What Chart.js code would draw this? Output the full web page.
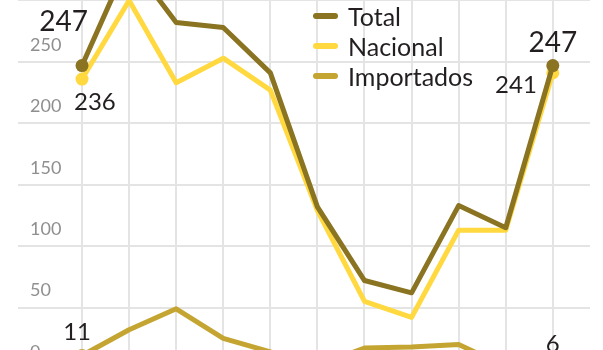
<!DOCTYPE html>
<html>
<head>
<meta charset="utf-8">
<script src="https://cdn.jsdelivr.net/npm/chart.js@4"></script>
<style>
  html, body { margin: 0; padding: 0; background: #fff; overflow: hidden; }
  body { width: 603px; height: 350px; position: relative; font-family: Lato, sans-serif; }
  #wrap { position: absolute; left: 0; top: -61px; width: 603px; height: 430px; }
  #legend { position: absolute; left: 313px; top: 1px; }
  .item { height: 30px; display: flex; align-items: center; font-size: 25px; color: #231f20; }
  .swatch { width: 25px; height: 6px; border-radius: 3px; margin-right: 10px; }
</style>
</head>
<body>
<div id="wrap"><canvas id="chart" width="603" height="430"></canvas></div>
<div id="legend"></div>
<script>
// --- data ---
const categories = ["2013", "2014", "2015", "2016", "2017", "2018", "2019", "2020", "2021", "2022", "2023"];
const total = [247, 333, 282, 278, 241, 132, 72, 62, 133, 115, 247];
const nacional = [236, 300, 233, 253, 227, 129, 55, 42, 113, 113, 241];
const importados = [11, 32, 49, 25, 14, 3, 17, 18, 20, 2, 6];
const yTicks = [0, 50, 100, 150, 200, 250, 300, 350];

const colors = {
  total: "#8a7422",
  nacional: "#ffd93f",
  importados: "#c4a532",
};

const last = categories.length - 1;
const toPoints = (arr) => arr.map((v, i) => ({ x: i, y: v }));
const endDot = (ctx) => (ctx.dataIndex === 0 || ctx.dataIndex === last ? 6.5 : 0);

// number labels at the ends of the lines
// [dataset, index, dx, dy, align, size]
const endLabels = [
  [0, 0, 6, -35, "right", 28],
  [1, 0, -8, 31, "left", 24],
  [0, last, 0, -14, "center", 28],
  [1, last, -16, 20, "right", 24],
  [2, 0, 9, -15, "right", 24],
  [2, last, 0, -10, "center", 24],
];

const labelPlugin = {
  id: "endLabels",
  afterDatasetsDraw(chart) {
    const ctx = chart.ctx;
    ctx.save();
    ctx.fillStyle = "#231f20";
    ctx.textBaseline = "alphabetic";
    endLabels.forEach(([ds, idx, dx, dy, align, size]) => {
      const pt = chart.getDatasetMeta(ds).data[idx];
      ctx.font = size + "px Lato";
      ctx.textAlign = align;
      ctx.fillText(chart.data.datasets[ds].data[idx].y, pt.x + dx, pt.y + dy);
    });
    ctx.restore();
  },
};

const datasets = [
  { label: "Total", data: toPoints(total), borderColor: colors.total, backgroundColor: colors.total },
  { label: "Nacional", data: toPoints(nacional), borderColor: colors.nacional, backgroundColor: colors.nacional },
  { label: "Importados", data: toPoints(importados), borderColor: colors.importados, backgroundColor: colors.importados },
].map((d) => ({
  ...d,
  borderWidth: 5,
  pointRadius: endDot,
  pointBorderWidth: 0,
  pointHoverRadius: endDot,
  tension: 0,
  borderJoinStyle: "round",
}));

// mirrored axes should not eat any room from the plot
const noRoom = (scale) => {
  if (scale.isHorizontal()) {
    scale.height = 0;
  } else {
    scale.width = 0;
  }
  scale.paddingTop = 0;
  scale.paddingBottom = 0;
  scale.paddingLeft = 0;
  scale.paddingRight = 0;
};

new Chart(document.getElementById("chart"), {
  type: "line",
  data: { datasets },
  options: {
    responsive: false,
    animation: false,
    layout: { autoPadding: false, padding: { left: 18, right: 13, top: 0, bottom: 0 } },
    plugins: {
      legend: { display: false },
      tooltip: { enabled: false },
    },
    scales: {
      x: {
        type: "linear",
        min: -1.36,
        max: 10.79,
        afterBuildTicks: (axis) => {
          axis.ticks = categories.map((c, i) => ({ value: i }));
        },
        afterFit: noRoom,
        ticks: { display: false },
        grid: { color: "#e4e4e4", lineWidth: 2, drawTicks: false },
        border: { display: false },
      },
      y: {
        min: 0,
        max: 350,
        afterBuildTicks: (axis) => {
          axis.ticks = yTicks.map((v) => ({ value: v }));
        },
        afterFit: noRoom,
        ticks: {
          mirror: true,
          padding: 12,
          labelOffset: -17,
          color: "#8f8f8f",
          font: { family: "Lato", size: 18 },
        },
        grid: { color: "#e4e4e4", lineWidth: 2, drawTicks: false },
        border: { display: false },
      },
    },
  },
  plugins: [labelPlugin],
});

// legend
const legend = document.getElementById("legend");
datasets.forEach((d) => {
  const row = document.createElement("div");
  row.className = "item";
  const sw = document.createElement("span");
  sw.className = "swatch";
  sw.style.background = d.borderColor;
  row.appendChild(sw);
  row.appendChild(document.createTextNode(d.label));
  legend.appendChild(row);
});
</script>
</body>
</html>
